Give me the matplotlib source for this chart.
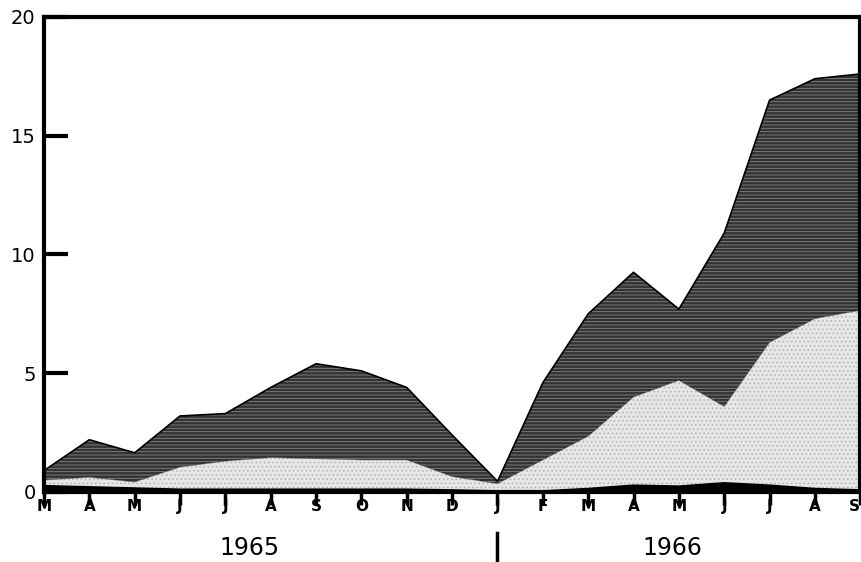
import matplotlib.pyplot as plt

months = ["M", "A", "M", "J", "J", "A", "S", "O", "N", "D",
          "J", "F", "M", "A", "M", "J", "J", "A", "S"]
# stacked layers (bottom, middle, top thickness via totals)
bottom = [0.30, 0.25, 0.20, 0.15, 0.15, 0.15, 0.15, 0.15, 0.15, 0.12,
          0.08, 0.08, 0.18, 0.32, 0.28, 0.42, 0.32, 0.18, 0.12]
middle_top = [0.50, 0.62, 0.42, 1.05, 1.30, 1.45, 1.40, 1.35, 1.35, 0.65,
              0.35, 1.35, 2.35, 4.00, 4.70, 3.60, 6.30, 7.30, 7.65]
total = [0.90, 2.20, 1.65, 3.20, 3.30, 4.40, 5.40, 5.10, 4.40, 2.40,
         0.45, 4.60, 7.50, 9.25, 7.70, 10.90, 16.50, 17.40, 17.60]
yticks = [0, 5, 10, 15, 20]

x = list(range(len(months)))

fig = plt.figure(figsize=(8.62, 5.62), dpi=100)
ax = fig.add_axes([0.051, 0.1246, 0.947, 0.8452])

plt.rcParams['hatch.linewidth'] = 0.6
ax.fill_between(x, middle_top, total, facecolor="#333333", edgecolor="#858585",
                hatch="-----", linewidth=0)
ax.plot(x, total, color="black", lw=1.2)
ax.fill_between(x, bottom, middle_top, facecolor="#e6e6e6", edgecolor="#b0b0b0",
                hatch="....", linewidth=0)
ax.plot(x, middle_top, color="black", lw=0.5, alpha=0.5)
ax.fill_between(x, 0, bottom, facecolor="black", linewidth=0)

ax.set_xlim(0, len(months) - 1)
ax.set_ylim(0, 20)

for s in ["left", "top", "right", "bottom"]:
    ax.spines[s].set_linewidth(3)
    ax.spines[s].set_color("black")

ax.set_yticks(yticks)
ax.set_yticklabels([str(v) for v in yticks], fontsize=14)
ax.tick_params(axis="y", direction="in", length=17, width=3, pad=6)
ax.set_xticks(x)
ax.set_xticklabels(months, fontsize=11, fontweight="bold")
ax.tick_params(axis="x", direction="out", length=9, width=2.5, pad=-4)
ax.get_xticklabels()[-1].set_horizontalalignment("right")

fig.text(0.29, 0.025, "1965", fontsize=17, ha="center", va="center")
fig.text(0.78, 0.025, "1966", fontsize=17, ha="center", va="center")
# year divider under January 1966
divx = 0.051 + 0.947 * 10 / 18
fig.add_artist(plt.Line2D([divx, divx], [0.0, 0.052], color="black", lw=2.5,
                          transform=fig.transFigure))

fig.savefig("out.png", dpi=100)
